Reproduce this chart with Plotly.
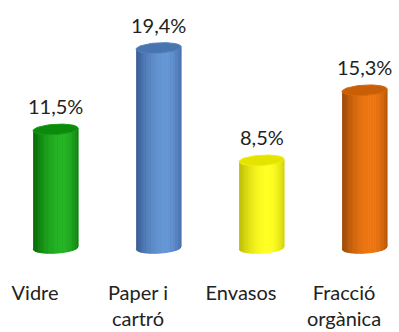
import numpy as np
import plotly.graph_objects as go

# ---- data ----
categories = ["Vidre", "Paper i<br>cartró", "Envasos", "Fracció<br>orgànica"]
values = [11.5, 19.4, 8.5, 15.3]
value_labels = ["11,5%", "19,4%", "8,5%", "15,3%"]

# ---- styles ----
dark_cols = [(0, 100, 0), (52, 88, 145), (185, 185, 0), (150, 68, 0)]
light_cols = [(32, 178, 32), (98, 148, 212), (255, 255, 30), (238, 116, 14)]
cap_cols = [(12, 138, 12), (72, 116, 176), (228, 228, 0), (200, 94, 6)]

BAR_SHIFT = 0.2     # bar offset from its category label (x units)
HALF_W = 0.218      # cylinder half width (x units)
CAP_H = 0.5         # ellipse half height (y units)
TILT = 0.12         # ellipse tilt (y units at edge)
NSTRIP = 36
FONT = "Lato, 'Open Sans', sans-serif"


def shade(u):
    p = 0.3
    if u < p:
        d = (u - p) / (1 + p)
    else:
        d = (u - p) / (1 - p) * 0.8
    return max(0.0, 1 - d * d)


def mix(a, b, t):
    return "rgb(%d,%d,%d)" % tuple(int(round(a[k] + (b[k] - a[k]) * t)) for k in range(3))


fig = go.Figure()
for i, v in enumerate(values):
    xc = i + BAR_SHIFT
    edges = np.linspace(-1, 1, NSTRIP + 1)
    for j in range(NSTRIP):
        us = np.linspace(edges[j], edges[j + 1], 4)
        xs = xc + HALF_W * us
        curve = -CAP_H * np.sqrt(np.clip(1 - us ** 2, 0, 1)) + TILT * us
        bottom = curve
        top = v + curve
        px = np.concatenate([xs, xs[::-1]])
        py = np.concatenate([bottom, top[::-1]])
        col = mix(dark_cols[i], light_cols[i], shade((edges[j] + edges[j + 1]) / 2))
        fig.add_trace(go.Scatter(
            x=px, y=py, fill="toself", fillcolor=col, mode="lines",
            line=dict(color=col, width=1), hoverinfo="skip", showlegend=False))
    th = np.linspace(0, 2 * np.pi, 80)
    cx = xc + HALF_W * np.cos(th)
    cy = v + CAP_H * np.sin(th) + TILT * np.cos(th)
    fig.add_trace(go.Scatter(
        x=cx, y=cy, fill="toself", fillcolor=mix(cap_cols[i], (0, 0, 0), 0.0),
        mode="lines", line=dict(color=mix(cap_cols[i], light_cols[i], 0.4), width=1),
        hoverinfo="skip", showlegend=False))
    fig.add_annotation(x=xc, y=v, text=value_labels[i], showarrow=False,
                       yanchor="middle", yshift=23,
                       font=dict(family=FONT, size=20, color="#222222"))

fig.update_layout(
    width=399, height=332,
    margin=dict(l=0, r=0, t=0, b=57),
    paper_bgcolor="white", plot_bgcolor="white",
    font=dict(family=FONT, size=20, color="#222222"),
    xaxis=dict(range=[-0.34, 3.534], tickmode="array", tickvals=list(range(len(categories))),
               ticktext=categories, showgrid=False, zeroline=False, showline=False,
               ticks="", ticklabelstandoff=4, fixedrange=True,
               tickfont=dict(family=FONT, size=20, color="#222222")),
    yaxis=dict(range=[-2.62, 24.05], visible=False, fixedrange=True),
)

fig.write_html("out.html", config={"displayModeBar": False})
